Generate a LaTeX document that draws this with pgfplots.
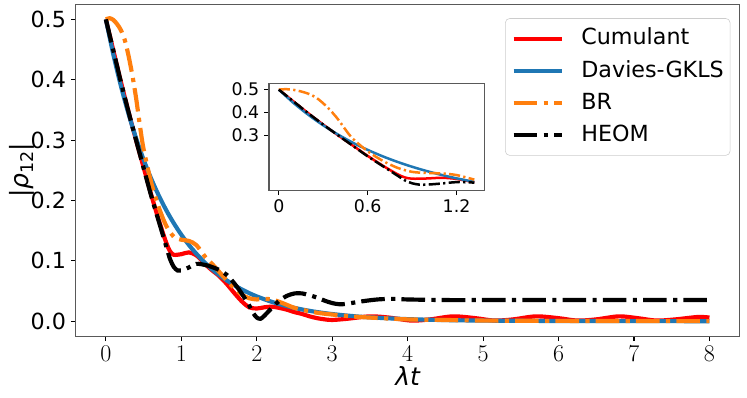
\documentclass[border=0pt]{standalone}
\usepackage{fontspec}
\setmainfont{DejaVu Sans}
\usepackage{pgfplots}
\usepackage{pgfplotstable}
\pgfplotsset{compat=1.18}

\definecolor{mplblue}{HTML}{1F77B4}
\definecolor{mplorange}{HTML}{FF7F0E}

% |rho_12| vs lambda t
\pgfplotstableread{
t v
0 0.500
0.1 0.448
0.2 0.396
0.3 0.347
0.4 0.300
0.5 0.255
0.6 0.210
0.7 0.168
0.8 0.130
0.85 0.116
0.9 0.110
1.0 0.111
1.1 0.114
1.2 0.109
1.32 0.094
1.4 0.085
1.5 0.075
1.6 0.062
1.7 0.047
1.8 0.033
1.9 0.023
2.0 0.021
2.1 0.023
2.2 0.024
2.3 0.022
2.4 0.019
2.5 0.015
2.6 0.012
2.7 0.008
2.8 0.005
2.9 0.003
3.0 0.002
3.2 0.004
3.5 0.008
3.75 0.006
4.05 0.001
4.3 0.003
4.6 0.008
4.9 0.005
5.15 0.001
5.4 0.003
5.7 0.008
6.0 0.005
6.25 0.001
6.5 0.003
6.8 0.008
7.05 0.005
7.3 0.001
7.55 0.003
7.85 0.007
8.0 0.006
}\cumulant

\pgfplotstableread{
t v
0 0.5000
0.1 0.4412
0.2 0.3894
0.3 0.3436
0.4 0.3033
0.5 0.2676
0.6 0.2362
0.7 0.2084
0.8 0.1839
0.9 0.1623
1.0 0.1433
1.1 0.1264
1.2 0.1116
1.32 0.0960
1.4 0.0869
1.5 0.0767
1.6 0.0677
1.7 0.0597
1.8 0.0527
1.9 0.0465
2.0 0.0410
2.2 0.0320
2.4 0.0249
2.6 0.0194
2.8 0.0151
3.0 0.0118
3.25 0.0087
3.5 0.0063
4.0 0.0034
4.5 0.0018
5.0 0.0010
6.0 0.0003
7.0 0.0001
8.0 0.0000
}\davies

\pgfplotstableread{
t v
0 0.500
0.05 0.502
0.1 0.499
0.15 0.492
0.2 0.482
0.25 0.466
0.3 0.440
0.35 0.408
0.4 0.370
0.45 0.325
0.5 0.285
0.6 0.230
0.7 0.189
0.8 0.158
0.9 0.140
1.0 0.135
1.1 0.133
1.2 0.126
1.32 0.106
1.4 0.096
1.5 0.082
1.6 0.068
1.7 0.055
1.8 0.044
1.9 0.038
2.0 0.036
2.1 0.037
2.2 0.036
2.3 0.032
2.4 0.027
2.5 0.022
2.6 0.019
2.8 0.014
3.0 0.011
3.25 0.008
3.5 0.006
4.0 0.003
4.5 0.002
5.0 0.001
6.0 0.0005
7.0 0.0002
8.0 0.0001
}\br

\pgfplotstableread{
t v
0 0.500
0.1 0.448
0.2 0.396
0.3 0.347
0.4 0.300
0.5 0.254
0.6 0.208
0.7 0.166
0.8 0.124
0.85 0.103
0.9 0.090
0.95 0.084
1.0 0.084
1.1 0.089
1.2 0.095
1.32 0.093
1.4 0.090
1.5 0.085
1.6 0.077
1.7 0.063
1.8 0.046
1.9 0.026
1.95 0.014
2.0 0.006
2.05 0.004
2.1 0.009
2.2 0.022
2.3 0.034
2.4 0.042
2.5 0.046
2.6 0.046
2.7 0.043
2.8 0.039
2.9 0.034
3.0 0.030
3.1 0.028
3.2 0.029
3.4 0.033
3.6 0.036
3.8 0.037
4.0 0.036
4.5 0.035
5.0 0.035
6.0 0.035
7.0 0.035
8.0 0.035
}\heom

\begin{document}
\begin{tikzpicture}
\pgfplotsset{
  mplframe/.style={
    scale only axis,
    axis line style={black!65, line width=0.8pt},
    tick align=outside, tick pos=left,
    major tick length=3.5pt,
    every tick/.style={black, line width=0.8pt},
  },
  dashdot/.style={dash pattern=on 17pt off 4.6pt on 3pt off 4.4pt},
  dashdotsmall/.style={dash pattern=on 8pt off 2.4pt on 1.6pt off 2.4pt},
}
\begin{axis}[
  mplframe,
  width=478pt, height=239pt,
  xmin=-0.4, xmax=8.4, ymin=-0.025, ymax=0.525,
  xtick={0,1,2,3,4,5,6,7,8},
  ytick={0,0.1,0.2,0.3,0.4,0.5},
  yticklabels={0.0,0.1,0.2,0.3,0.4,0.5},
  tick label style={font=\fontsize{16}{18}\selectfont},
  xlabel={\fontsize{18}{20}\selectfont\itshape λt},
  xlabel style={at={(axis description cs:0.5,0)}, anchor=base, yshift=-35.5pt},
  ylabel={\fontsize{18}{20}\selectfont |\textit{ρ}\raisebox{-0.22em}{\fontsize{12.6}{14}\selectfont 12}|},
  ylabel style={at={(axis description cs:-0.0816,0.5)}, anchor=center},
  legend cell align=left,
  legend image code/.code={\draw[#1] (0pt,0pt) -- (35pt,0pt);},
  legend style={
    at={(0.986,0.958)}, anchor=north east,
    draw=black!20, rounded corners=3pt, fill=white,
    font=\fontsize{16}{19}\selectfont,
    inner xsep=4.5pt, inner ysep=5.5pt, row sep=5.3pt,
    nodes={inner sep=0pt, text height=13.4pt, text depth=4.5pt},
    /tikz/every odd column/.append style={column sep=12.2pt},
  },
]
\addplot[red, line width=3pt, smooth] table {\cumulant};
\addlegendentry{Cumulant}
\addplot[mplblue, line width=3pt, smooth] table {\davies};
\addlegendentry{Davies-GKLS}
\addplot[mplorange, line width=3pt, smooth, dashdot] table {\br};
\addlegendentry{BR}
\addplot[black, line width=3pt, smooth, dashdot] table {\heom};
\addlegendentry{HEOM}
\end{axis}

\begin{axis}[
  mplframe,
  at={(139.2pt,105.1pt)}, anchor=south west,
  width=154.8pt, height=77pt,
  axis background/.style={fill=white},
  xmin=-0.066, xmax=1.386, ymin=0.0593, ymax=0.5276,
  xtick={0,0.6,1.2}, xticklabels={0,0.6,1.2},
  ytick={0.3,0.4,0.5}, yticklabels={0.3,0.4,0.5},
  tick label style={font=\fontsize{12.5}{14}\selectfont},
]
\addplot[red, line width=1.8pt, smooth, restrict x to domain=0:1.325] table {\cumulant};
\addplot[mplblue, line width=1.8pt, smooth, restrict x to domain=0:1.325] table {\davies};
\addplot[mplorange, line width=1.8pt, smooth, dashdotsmall, restrict x to domain=0:1.325] table {\br};
\addplot[black, line width=1.8pt, smooth, dashdotsmall, restrict x to domain=0:1.325] table {\heom};
\end{axis}

\pgfresetboundingbox
\useasboundingbox (-54.5pt,-43.9pt) rectangle (483.3pt,242.1pt);
\end{tikzpicture}
\end{document}
